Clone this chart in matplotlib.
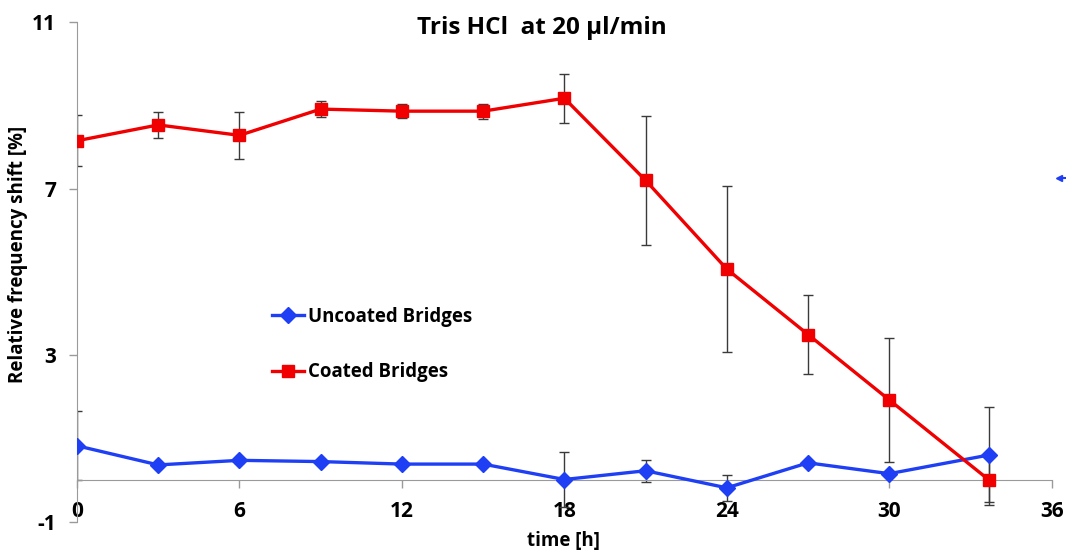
import matplotlib
matplotlib.use("Agg")
import matplotlib.pyplot as plt
from matplotlib.lines import Line2D

plt.rcParams['font.family'] = ['Open Sans', 'DejaVu Sans']
plt.rcParams['font.weight'] = 'bold'
plt.rcParams['axes.unicode_minus'] = False

# data
time_h = [0, 3, 6, 9, 12, 15, 18, 21, 24, 27, 30, 33.7]
uncoated = [0.83, 0.37, 0.48, 0.45, 0.39, 0.39, 0.02, 0.23, -0.18, 0.42, 0.16, 0.61]
uncoated_err = [0.83, 0.0, 0.06, 0.0, 0.0, 0.0, 0.67, 0.27, 0.31, 0.0, 0.0, 1.14]
coated = [8.15, 8.53, 8.28, 8.91, 8.86, 8.86, 9.17, 7.20, 5.07, 3.50, 1.93, 0.0]
coated_err = [0.61, 0.32, 0.57, 0.20, 0.17, 0.18, 0.59, 1.55, 2.0, 0.94, 1.48, 0.6]

x_ticks = [0, 6, 12, 18, 24, 30, 36]
y_ticks = [-1, 3, 7, 11]

blue = '#1f3ff5'
red = '#f00000'
W, H = 1066, 555

fig = plt.figure(figsize=(W / 100, H / 100), dpi=100)
ax = fig.add_axes([77 / W, 1 - 522 / H, (1051.7 - 77) / W, 500 / H])

# error bars first so the markers sit on top
ax.errorbar(time_h, uncoated, yerr=uncoated_err, fmt='none', ecolor='#3a3a3a',
            elinewidth=1, capsize=3.5, capthick=1, zorder=2)
ax.errorbar(time_h, coated, yerr=coated_err, fmt='none', ecolor='#3a3a3a',
            elinewidth=1, capsize=3.5, capthick=1, zorder=2)

ax.plot(time_h, uncoated, color=blue, lw=2.4, marker='D', ms=8,
        mec=blue, mfc=blue, label='Uncoated Bridges', zorder=3)
ax.plot(time_h, coated, color=red, lw=2.4, marker='s', ms=9,
        mec=red, mfc=red, label='Coated Bridges', zorder=4)

ax.set_xlim(0, 36)
ax.set_ylim(-1, 11)
ax.set_xticks(x_ticks)
ax.set_yticks(y_ticks)

for s in ['top', 'right']:
    ax.spines[s].set_visible(False)
ax.spines['bottom'].set_position(('data', 0))
ax.spines['bottom'].set_color('#9a9a9a')
ax.spines['left'].set_color('#9a9a9a')
ax.tick_params(axis='x', direction='out', length=6, width=1, color='#9a9a9a',
               pad=9, labelsize=15)
ax.tick_params(axis='y', direction='out', length=6, width=1, color='#9a9a9a',
               pad=9, labelsize=15)
for lab in ax.get_xticklabels() + ax.get_yticklabels():
    lab.set_fontweight('bold')

ax.legend(loc='upper left', bbox_to_anchor=(272 / W, 1 - 307 / H),
          bbox_transform=fig.transFigure, frameon=False,
          handlelength=1.7, handletextpad=0.25, labelspacing=1.9,
          borderpad=0, borderaxespad=0, numpoints=1,
          prop={'weight': 'bold', 'size': 13.4})

fig.text(542 / W, 1 - 28 / H, 'Tris HCl  at 20 \u00b5l/min', ha='center', va='center',
         fontsize=17.5, fontweight='bold')
fig.text(18 / W, 1 - 254 / H, 'Relative frequency shift [%]', ha='center', va='center',
         rotation=90, fontsize=13.5, fontweight='bold')
fig.text(563 / W, 1 - 541 / H, 'time [h]', ha='center', va='center',
         fontsize=13.5, fontweight='bold')

# little clipped blue marker at the right edge of the reference
fig.add_artist(Line2D([1059 / W, 1066 / W], [1 - 178 / H, 1 - 178 / H], color=blue,
                      lw=1.5, marker='<', markevery=[0], ms=5, transform=fig.transFigure))

fig.savefig('out.png', dpi=100)
